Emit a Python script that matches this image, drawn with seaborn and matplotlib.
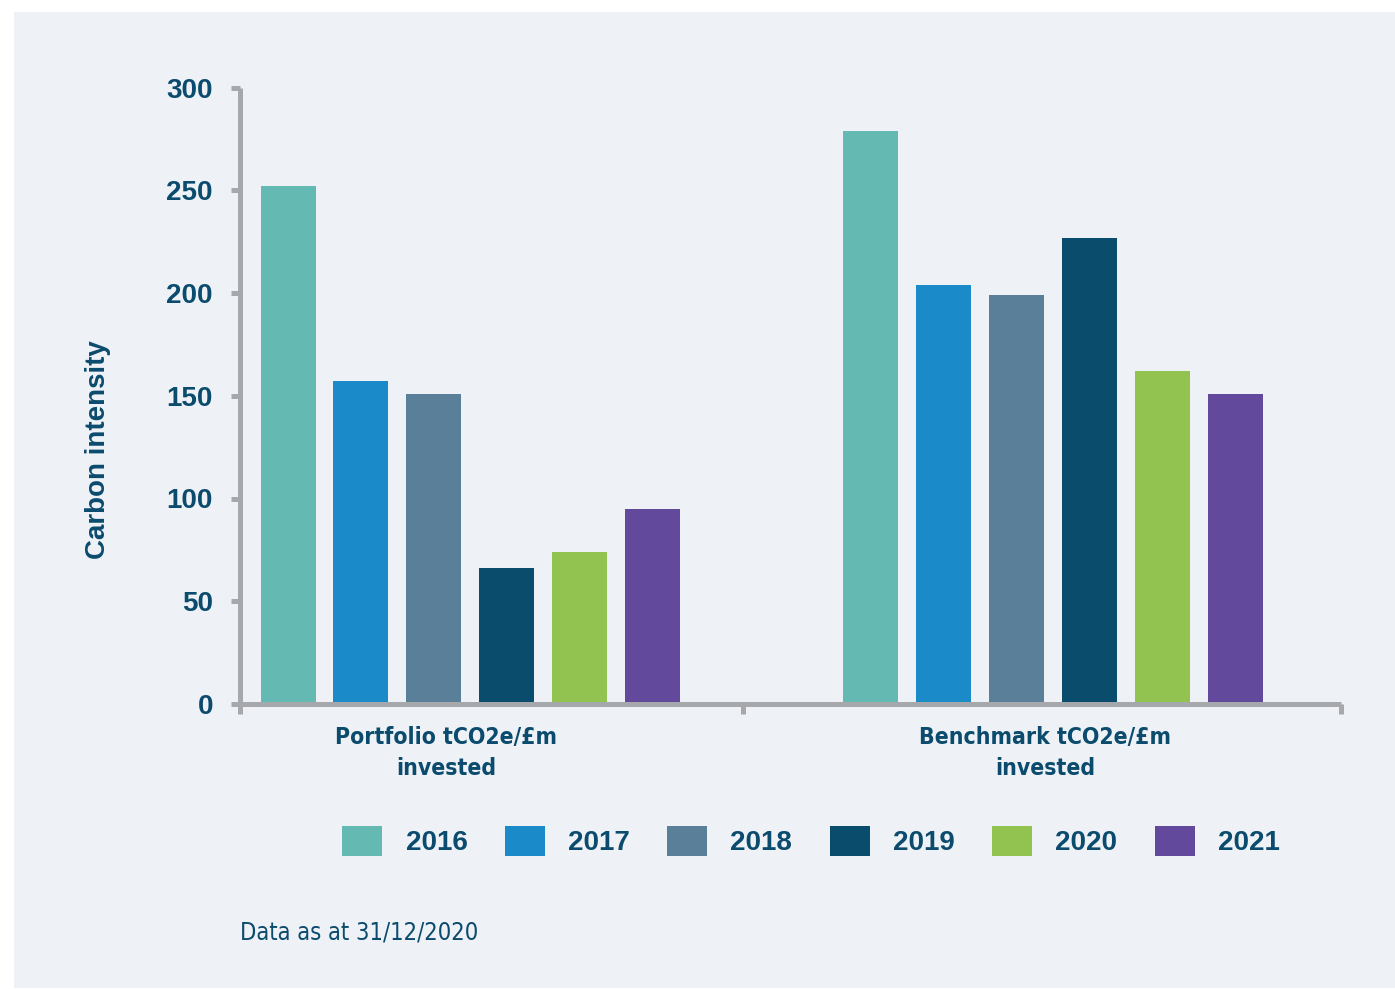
import matplotlib
matplotlib.use("Agg")
import matplotlib.pyplot as plt
from matplotlib.patches import Rectangle
import pandas as pd
import seaborn as sns

# Chart data
metrics = ["Portfolio tCO2e/£m\ninvested", "Benchmark tCO2e/£m\ninvested"]
years = ["2016", "2017", "2018", "2019", "2020", "2021"]
portfolio_values = [252, 157, 151, 66, 74, 95]
benchmark_values = [279, 204, 199, 227, 162, 151]
yticks = [0, 50, 100, 150, 200, 250, 300]
year_colors = ["#64bab2", "#1a8ac8", "#5a7f98", "#0a4c6c", "#92c350", "#63499b"]

text_color = "#0b4b6d"
axis_color = "#a7a8ab"
panel_color = "#eef2f6"
narrow = ["DejaVu Sans", "Liberation Sans"]

rows = []
for metric, vals in zip(metrics, [portfolio_values, benchmark_values]):
    for yr, v in zip(years, vals):
        rows.append({"metric": metric, "year": yr, "value": v})
df = pd.DataFrame(rows)

sns.set_theme(style="white")
plt.rcParams["font.family"] = ["Liberation Sans", "DejaVu Sans"]

fig = plt.figure(figsize=(13.95, 9.89), dpi=100, facecolor="white")
# light panel behind the chart
fig.patches.append(Rectangle((14 / 1395, 1 - 988 / 989), 1 - 14 / 1395, (988 - 12) / 989,
                             transform=fig.transFigure, facecolor=panel_color,
                             edgecolor="none", zorder=-10))

ax = fig.add_axes([240 / 1395, 1 - 704 / 989, (1341 - 240) / 1395, (704 - 87.5) / 989])
ax.set_facecolor("none")

sns.barplot(data=df, x="metric", y="value", hue="year", hue_order=years,
            palette=year_colors, saturation=1, width=0.75, gap=0.245,
            linewidth=0, ax=ax)

ax.set_ylim(0, 300)
ax.set_xlim(-0.395, 1.494)

for side in ["top", "right"]:
    ax.spines[side].set_visible(False)
for side in ["left", "bottom"]:
    ax.spines[side].set_color(axis_color)
    ax.spines[side].set_linewidth(3.6)
    ax.spines[side].set_capstyle("butt")

ax.set_yticks(yticks)
ax.set_yticklabels([str(t) for t in yticks])
ax.tick_params(axis="y", left=True, direction="out", length=6.5, width=3.6,
               color=axis_color, pad=13, labelsize=20, labelcolor=text_color)
for lbl in ax.get_yticklabels():
    lbl.set_fontweight("bold")

# category labels and boundary ticks on the x axis
ax.set_xticks([-0.041, 0.986])
ax.set_xticklabels(metrics)
ax.set_xticks([-0.395, 0.468, 1.494], minor=True)
ax.tick_params(axis="x", which="major", bottom=True, length=0, pad=16,
               labelcolor=text_color)
ax.tick_params(axis="x", which="minor", bottom=True, direction="out", length=7,
               width=3.6, color=axis_color)
for lbl in ax.get_xticklabels():
    lbl.set_family(narrow)
    lbl.set_stretch("condensed")
    lbl.set_fontweight("bold")
    lbl.set_fontsize(16.5)
    lbl.set_linespacing(1.45)
ax.set_xlabel("")

ax.set_ylabel("Carbon intensity", fontsize=20, fontweight="bold", color=text_color,
              labelpad=40)
ax.yaxis.label.set_y((704 - 450) / 616.5)

handles, labels = ax.get_legend_handles_labels()
ax.get_legend().remove()
fig.legend(handles, labels, loc="center", bbox_to_anchor=(811 / 1395, 1 - 841 / 989),
           ncol=6, frameon=False, handlelength=1.44, handleheight=1.3,
           handletextpad=0.83, columnspacing=1.35,
           prop={"weight": "bold", "size": 20})
for t in fig.legends[0].get_texts():
    t.set_color(text_color)

fig.text(240 / 1395, 1 - 932 / 989, "Data as at 31/12/2020", ha="left", va="center",
         fontsize=17, color=text_color, family=narrow, stretch="condensed")

fig.savefig("out.png", dpi=100, facecolor="white")
